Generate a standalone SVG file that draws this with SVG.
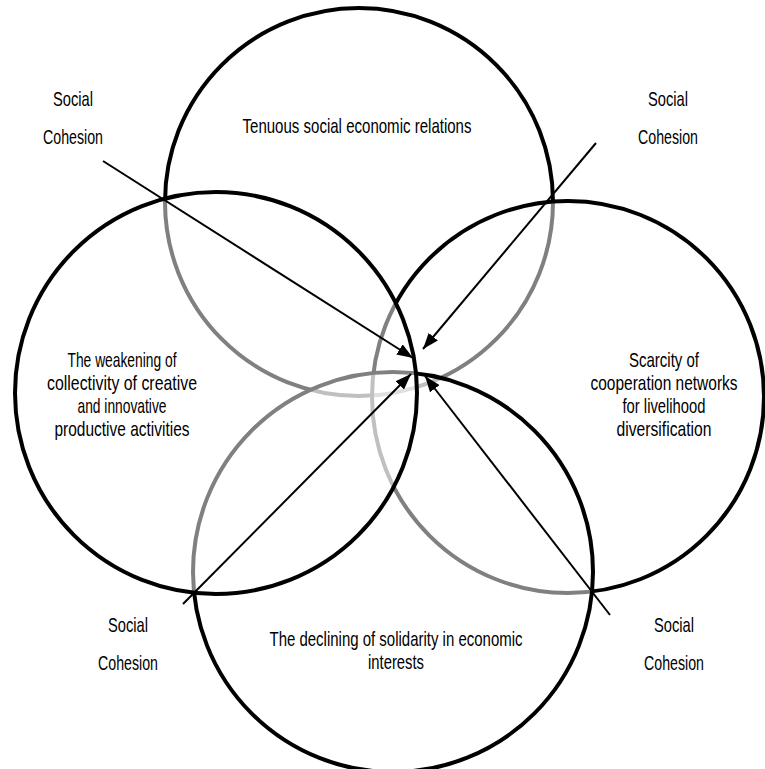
<svg xmlns="http://www.w3.org/2000/svg" width="765" height="769" viewBox="0 0 765 769">
  <style>
    .c { fill: #ffffff; fill-opacity: 0.5; stroke: #000; stroke-width: 4; }
    .a { stroke: #000; stroke-width: 2; fill: none; marker-end: url(#ah); }
    text { font-family: "Liberation Sans", "DejaVu Sans", sans-serif; font-size: 21px; fill: #000; text-anchor: middle; }
  </style>
  <defs>
    <marker id="ah" viewBox="0 0 16 12" markerWidth="16" markerHeight="12" refX="16" refY="6" orient="auto" markerUnits="userSpaceOnUse">
      <path d="M0,0 L16,6 L0,12 z" fill="#000"/>
    </marker>
  </defs>
  <rect width="765" height="769" fill="#fff"/>
  <g id="node-top">
    <circle class="c" cx="359" cy="202" r="194"/>
  </g>
  <g id="node-right">
    <circle class="c" cx="568" cy="397" r="196"/>
  </g>
  <g id="node-bottom">
    <circle class="c" cx="393" cy="572" r="200"/>
  </g>
  <g id="node-left">
    <circle class="c" cx="216" cy="393" r="201"/>
  </g>
  <g id="connectors">
    <line class="a" x1="103" y1="161" x2="413" y2="358"/>
    <line class="a" x1="596" y1="143" x2="423" y2="349"/>
    <line class="a" x1="183" y1="604" x2="411" y2="374"/>
    <line class="a" x1="610" y1="615" x2="425" y2="376"/>
  </g>
  <g id="labels-top">
    <text x="357" y="133" textLength="229" lengthAdjust="spacingAndGlyphs">Tenuous social economic relations</text>
  </g>
  <g id="labels-left">
    <text x="122" y="367" textLength="109" lengthAdjust="spacingAndGlyphs">The weakening of</text>
    <text x="122" y="390" textLength="150" lengthAdjust="spacingAndGlyphs">collectivity of creative</text>
    <text x="122" y="413" textLength="89" lengthAdjust="spacingAndGlyphs">and innovative</text>
    <text x="122" y="436" textLength="135" lengthAdjust="spacingAndGlyphs">productive activities</text>
  </g>
  <g id="labels-right">
    <text x="664" y="367" textLength="70" lengthAdjust="spacingAndGlyphs">Scarcity of</text>
    <text x="664" y="390" textLength="147" lengthAdjust="spacingAndGlyphs">cooperation networks</text>
    <text x="664" y="413" textLength="83" lengthAdjust="spacingAndGlyphs">for livelihood</text>
    <text x="664" y="436" textLength="95" lengthAdjust="spacingAndGlyphs">diversification</text>
  </g>
  <g id="labels-bottom">
    <text x="396" y="646" textLength="253" lengthAdjust="spacingAndGlyphs">The declining of solidarity in economic</text>
    <text x="396" y="669" textLength="56" lengthAdjust="spacingAndGlyphs">interests</text>
  </g>
  <g id="social-cohesion">
    <text x="73" y="106" textLength="40" lengthAdjust="spacingAndGlyphs">Social</text>
    <text x="73" y="144" textLength="60" lengthAdjust="spacingAndGlyphs">Cohesion</text>
    <text x="668" y="106" textLength="40" lengthAdjust="spacingAndGlyphs">Social</text>
    <text x="668" y="144" textLength="60" lengthAdjust="spacingAndGlyphs">Cohesion</text>
    <text x="128" y="632" textLength="40" lengthAdjust="spacingAndGlyphs">Social</text>
    <text x="128" y="670" textLength="60" lengthAdjust="spacingAndGlyphs">Cohesion</text>
    <text x="674" y="632" textLength="40" lengthAdjust="spacingAndGlyphs">Social</text>
    <text x="674" y="670" textLength="60" lengthAdjust="spacingAndGlyphs">Cohesion</text>
  </g>
</svg>
